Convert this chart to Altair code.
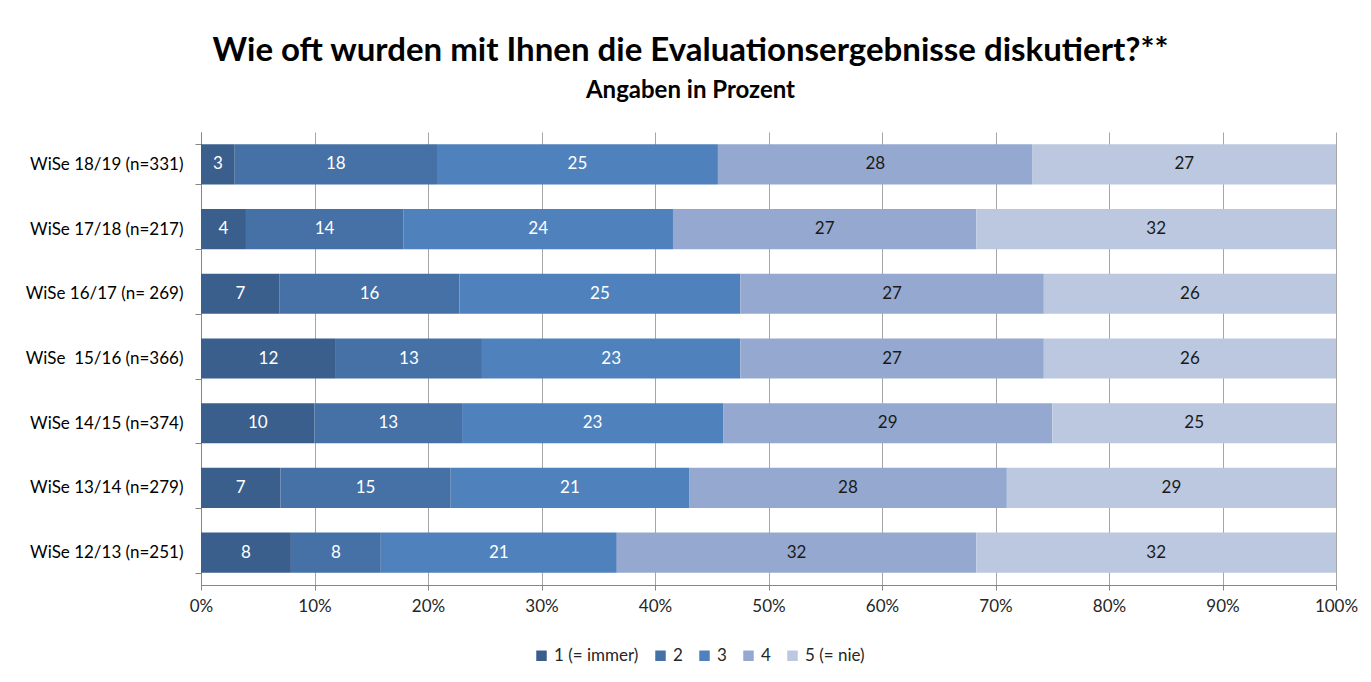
import altair as alt
import pandas as pd

periods = ["WiSe 18/19 (n=331)", "WiSe 17/18 (n=217)", "WiSe 16/17 (n= 269)",
           "WiSe\u00a0 15/16 (n=366)", "WiSe 14/15 (n=374)", "WiSe 13/14 (n=279)",
           "WiSe 12/13 (n=251)"]
series = ["1 (= immer)", "2", "3", "4", "5 (= nie)"]
colors = ["#3A5F8C", "#4571A7", "#4F81BD", "#95A9D0", "#BBC8E0"]

s1 = [3, 4, 7, 12, 10, 7, 8]
s2 = [18, 14, 16, 13, 13, 15, 8]
s3 = [25, 24, 25, 23, 23, 21, 21]
s4 = [28, 27, 27, 27, 29, 28, 32]
s5 = [27, 32, 26, 26, 25, 29, 32]

rows = []
for k, (name, vals) in enumerate(zip(series, [s1, s2, s3, s4, s5]), start=1):
    for p, v in zip(periods, vals):
        rows.append({"period": p, "series": name, "k": k, "value": v})
df = pd.DataFrame(rows)

FONT = "Lato"
FS = 17

base = alt.Chart(df).transform_stack(
    stack="value", groupby=["period"], sort=[alt.SortField("k", order="ascending")],
    offset="normalize", as_=["v1", "v2"]
).transform_calculate(
    mid="(datum.v1 + datum.v2) / 2",
    tcolor="datum.k <= 3 ? '#FFFFFF' : '#1A1A1A'"
)

ycode = alt.Y("period:N", sort=periods, title=None,
              scale=alt.Scale(paddingInner=0.38, paddingOuter=0.19),
              axis=alt.Axis(labelFont=FONT, labelFontSize=FS, labelColor="#000000",
                            labelPadding=12, tickBand="extent", tickSize=6,
                            tickColor="#868686", domainColor="#868686", grid=False))

bars = base.mark_bar().encode(
    x=alt.X("v1:Q", title=None,
            scale=alt.Scale(domain=[0, 1], nice=False),
            axis=alt.Axis(format="%", values=[i / 10 for i in range(11)],
                          labelFont=FONT, labelFontSize=FS, labelColor="#262626",
                          labelPadding=8, tickSize=5, tickColor="#868686",
                          domainColor="#868686", grid=True, gridColor="#A6A6A6",
                          labelFlush=False)),
    x2="v2:Q",
    y=ycode,
    color=alt.Color("series:N", sort=series, title=None,
                    scale=alt.Scale(domain=series, range=colors),
                    legend=alt.Legend(orient="none", direction="horizontal",
                                      legendX=332, legendY=515,
                                      symbolType="square", symbolSize=110,
                                      symbolStrokeWidth=0,
                                      labelFont=FONT, labelFontSize=FS,
                                      labelColor="#262626", columnPadding=13,
                                      labelOffset=4)),
)

labels = base.mark_text(font=FONT, fontSize=FS).encode(
    x=alt.X("mid:Q"),
    y=alt.Y("period:N", sort=periods),
    text=alt.Text("value:Q"),
    color=alt.Color("tcolor:N", scale=None),
)

chart = alt.layer(bars, labels).properties(
    width=1135, height=453,
    autosize=alt.AutoSizeParams(type="none"),
    padding={"left": 193, "top": 124, "right": 24, "bottom": 90},
    title=alt.TitleParams(
        text="Wie oft wurden mit Ihnen die Evaluationsergebnisse diskutiert?**",
        subtitle="Angaben in Prozent",
        font=FONT, fontSize=33, fontWeight="bold", color="#000000",
        subtitleFont=FONT, subtitleFontSize=24, subtitleFontWeight="bold",
        subtitleColor="#000000", subtitlePadding=11,
        anchor="middle", dx=-78, offset=20,
    ),
).configure_view(stroke=None)

chart.save("out.html", embed_options={"renderer": "svg", "actions": False})
